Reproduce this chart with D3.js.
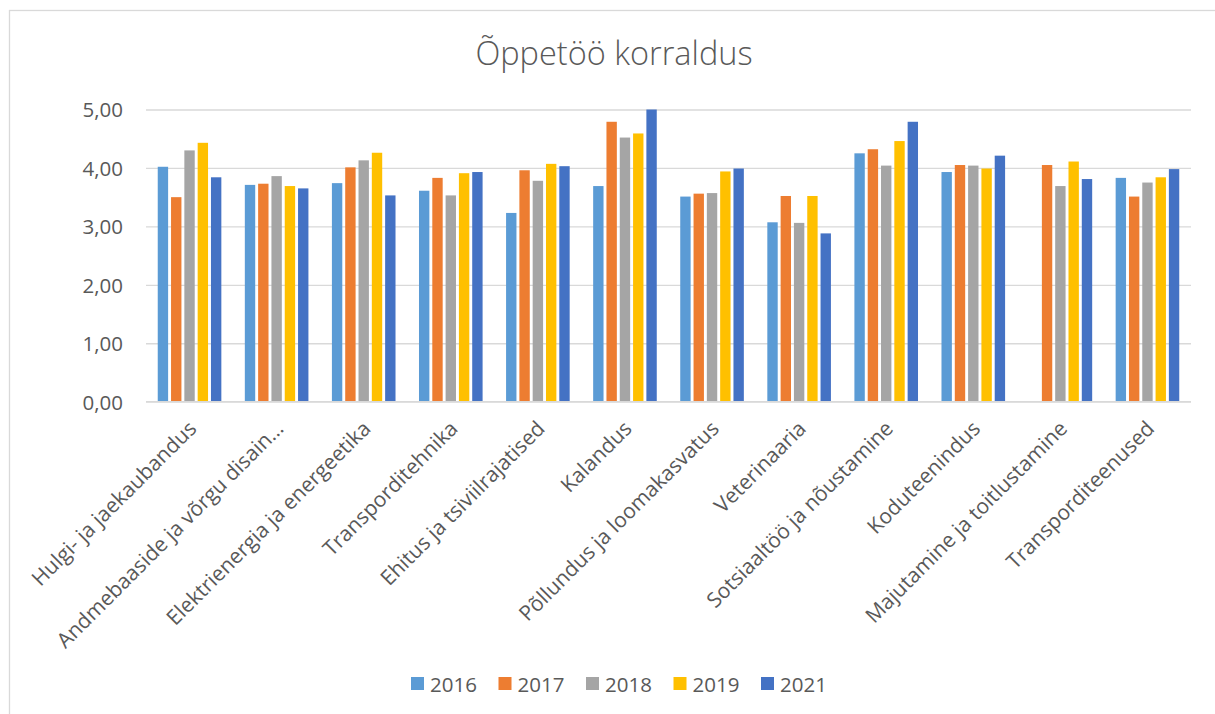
<!DOCTYPE html>
<html>
<head>
<meta charset="utf-8">
<script src="https://cdn.jsdelivr.net/npm/d3@7"></script>
<style>
  html, body { margin: 0; padding: 0; background: #fff; }
  svg { display: block; }
  text { font-family: "Open Sans", sans-serif; fill: #595959; }
</style>
</head>
<body>
<svg id="chart" width="1215" height="714"></svg>
<script>
const title = "Õppetöö korraldus";
const categories = [
  "Hulgi- ja jaekaubandus",
  "Andmebaaside ja võrgu disain…",
  "Elektrienergia ja energeetika",
  "Transporditehnika",
  "Ehitus ja tsiviilrajatised",
  "Kalandus",
  "Põllundus ja loomakasvatus",
  "Veterinaaria",
  "Sotsiaaltöö ja nõustamine",
  "Koduteenindus",
  "Majutamine ja toitlustamine",
  "Transporditeenused"
];
const seriesNames = ["2016", "2017", "2018", "2019", "2021"];
const seriesColors = ["#5B9BD5", "#ED7D31", "#A5A5A5", "#FFC000", "#4472C4"];
const v2016 = [4.02, 3.71, 3.74, 3.61, 3.23, 3.69, 3.51, 3.07, 4.25, 3.93, null, 3.83];
const v2017 = [3.50, 3.73, 4.01, 3.83, 3.96, 4.79, 3.56, 3.52, 4.32, 4.05, 4.05, 3.51];
const v2018 = [4.30, 3.86, 4.13, 3.53, 3.78, 4.52, 3.57, 3.06, 4.04, 4.04, 3.69, 3.75];
const v2019 = [4.43, 3.69, 4.26, 3.91, 4.07, 4.59, 3.94, 3.52, 4.46, 3.99, 4.11, 3.84];
const v2021 = [3.84, 3.65, 3.53, 3.93, 4.03, 5.00, 3.99, 2.88, 4.79, 4.21, 3.81, 3.98];
const yTicks = [0, 1, 2, 3, 4, 5];

const seriesValues = [v2016, v2017, v2018, v2019, v2021];

const svg = d3.select("#chart");
const W = 1215, H = 714;

// chart border
svg.append("rect")
  .attr("x", 9.5).attr("y", 10.5)
  .attr("width", W + 20).attr("height", H + 20)
  .attr("fill", "#fff").attr("stroke", "#D9D9D9").attr("stroke-width", 1.3);

const plot = { left: 146, right: 1191, top: 109.5, bottom: 401.7 };

const x0 = d3.scaleBand()
  .domain(categories)
  .range([plot.left, plot.right])
  .paddingInner(0.236)
  .paddingOuter(0.118);

const x1 = d3.scaleBand()
  .domain(seriesNames)
  .range([0, x0.bandwidth()])
  .paddingInner(0.22)
  .paddingOuter(0.11);

const y = d3.scaleLinear().domain([0, 5]).range([plot.bottom, plot.top]);

// title
svg.append("text")
  .attr("x", 614).attr("y", 65)
  .attr("text-anchor", "middle")
  .style("font-size", "32.5px")
  .style("font-weight", 300)
  .text(title);

// gridlines + y axis
const yAxis = d3.axisLeft(y)
  .tickValues(yTicks)
  .tickSize(-(plot.right - plot.left))
  .tickPadding(23)
  .tickFormat(d => d3.format(".2f")(d).replace(".", ","));

const gy = svg.append("g")
  .attr("transform", `translate(${plot.left},0)`)
  .call(yAxis);
gy.select(".domain").remove();
gy.selectAll(".tick line").attr("stroke", "#D9D9D9").attr("stroke-width", 1.3);
gy.selectAll(".tick text")
  .style("font-size", "20.5px")
  .attr("fill", "#595959")
  .attr("dy", "0.36em");

// bars
const groups = svg.append("g").selectAll("g")
  .data(categories)
  .join("g")
  .attr("transform", d => `translate(${x0(d)},0)`);

groups.selectAll("rect")
  .data((c, ci) => seriesNames.map((s, si) => ({ s, si, v: seriesValues[si][ci] })).filter(d => d.v != null))
  .join("rect")
  .attr("x", d => x1(d.s))
  .attr("width", x1.bandwidth())
  .attr("y", d => y(d.v))
  .attr("height", d => y(0) - y(d.v))
  .attr("fill", d => seriesColors[d.si]);

// x axis baseline (redraw over bars)
svg.append("line")
  .attr("x1", plot.left).attr("x2", plot.right)
  .attr("y1", y(0)).attr("y2", y(0))
  .attr("stroke", "#D9D9D9").attr("stroke-width", 1.3);

// x axis labels
const xAxis = d3.axisBottom(x0).tickSize(0).tickPadding(0);
const gx = svg.append("g")
  .attr("transform", `translate(0,${plot.bottom})`)
  .call(xAxis);
gx.select(".domain").remove();
gx.selectAll(".tick text")
  .style("font-size", "21px")
  .attr("fill", "#595959")
  .attr("text-anchor", "end")
  .attr("transform", "translate(3,23) rotate(-45)")
  .attr("dy", "0.35em")
  .attr("y", 0);

// legend
const legendX = d3.scalePoint().domain(seriesNames).range([411, 761]);
const lg = svg.append("g").selectAll("g")
  .data(seriesNames)
  .join("g")
  .attr("transform", d => `translate(${legendX(d)},677)`);
lg.append("rect")
  .attr("width", 13).attr("height", 13)
  .attr("fill", (d, i) => seriesColors[i]);
lg.append("text")
  .attr("x", 19).attr("y", 14.5)
  .style("font-size", "20.5px")
  .text(d => d);
</script>
</body>
</html>
